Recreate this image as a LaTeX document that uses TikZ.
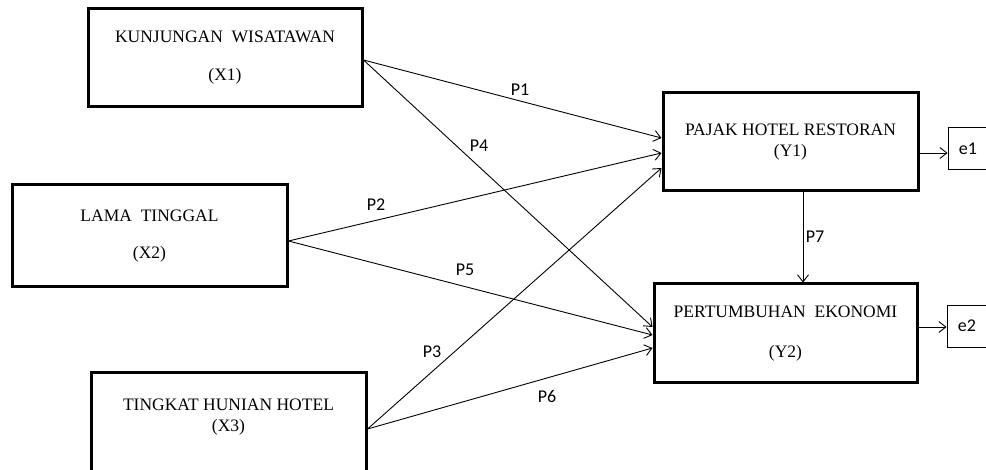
\documentclass[tikz,border=0pt]{standalone}
\usepackage{fontspec}
\setmainfont{Liberation Serif}
\newfontfamily\lblfont{Carlito}
\usetikzlibrary{arrows.meta}

\begin{document}
\begin{tikzpicture}[x=1pt, y=-1pt,
    var/.style={draw, line width=3pt, align=center, inner sep=0pt, font=\fontsize{17.5}{21}\selectfont},
    err/.style={draw, line width=0.9pt, minimum width=40pt, minimum height=42pt, inner sep=0pt, font=\lblfont\fontsize{18}{21}\selectfont},
    lbl/.style={inner sep=0pt, font=\lblfont\fontsize{18}{21}\selectfont},
    arr/.style={line width=0.9pt, -{Straight Barb[length=7pt, width=11pt]}}]
  \useasboundingbox (0,0) rectangle (986,470);
  \node (x1) [var, minimum width=274pt, minimum height=98pt] at (225,58) {KUNJUNGAN\ \ WISATAWAN\\[17pt](X1)};
  \node (x2) [var, minimum width=275pt, minimum height=102pt] at (149.5,236) {LAMA\ \ TINGGAL\\[16pt](X2)};
  \node (x3) [var, minimum width=275pt, minimum height=106pt, text depth=22pt] at (228.5,426) {TINGKAT HUNIAN HOTEL\\(X3)};
  \node (y1) [var, minimum width=255pt, minimum height=98pt] at (790.5,142) {PAJAK HOTEL RESTORAN\\(Y1)};
  \node (y2) [var, minimum width=263pt, minimum height=99pt] at (785.5,333.5) {PERTUMBUHAN\ \ EKONOMI\\[19pt](Y2)};
  \node (e1) [err] at (968,148.5) {e1};
  \node (e2) [err] at (967,326) {e2};

  \draw[arr] ([yshift=-2pt]x1.east) -- ([yshift=4pt]y1.west);
  \draw[arr] ([yshift=-2pt]x1.east) -- ([yshift=6.5pt]y2.west);
  \draw[arr] ([yshift=-5pt]x2.east) -- ([yshift=-11pt]y1.west);
  \draw[arr] ([yshift=-5pt]x2.east) -- ([yshift=-1.5pt]y2.west);
  \draw[arr] ([yshift=-3pt]x3.east) -- ([yshift=-26pt]y1.west);
  \draw[arr] ([yshift=-3pt]x3.east) -- ([yshift=-14.5pt]y2.west);
  \coordinate (p7s) at ([xshift=12.5pt]y1.south);
  \draw[arr] (p7s) -- (p7s |- y2.north);
  \coordinate (e1s) at ([yshift=-11pt]y1.east);
  \draw[arr] (e1s) -- (e1s -| e1.west);
  \coordinate (e2s) at ([yshift=6.5pt]y2.east);
  \draw[arr] (e2s) -- (e2s -| e2.west);

  \node (p1) [lbl] at (520,90) {P1};
  \node (p2) [lbl] at (376,205) {P2};
  \node (p3) [lbl] at (432,352) {P3};
  \node (p4) [lbl] at (479,146) {P4};
  \node (p5) [lbl] at (465,270) {P5};
  \node (p6) [lbl] at (547,396) {P6};
  \node (p7) [lbl] at (815,237) {P7};
\end{tikzpicture}
\end{document}
